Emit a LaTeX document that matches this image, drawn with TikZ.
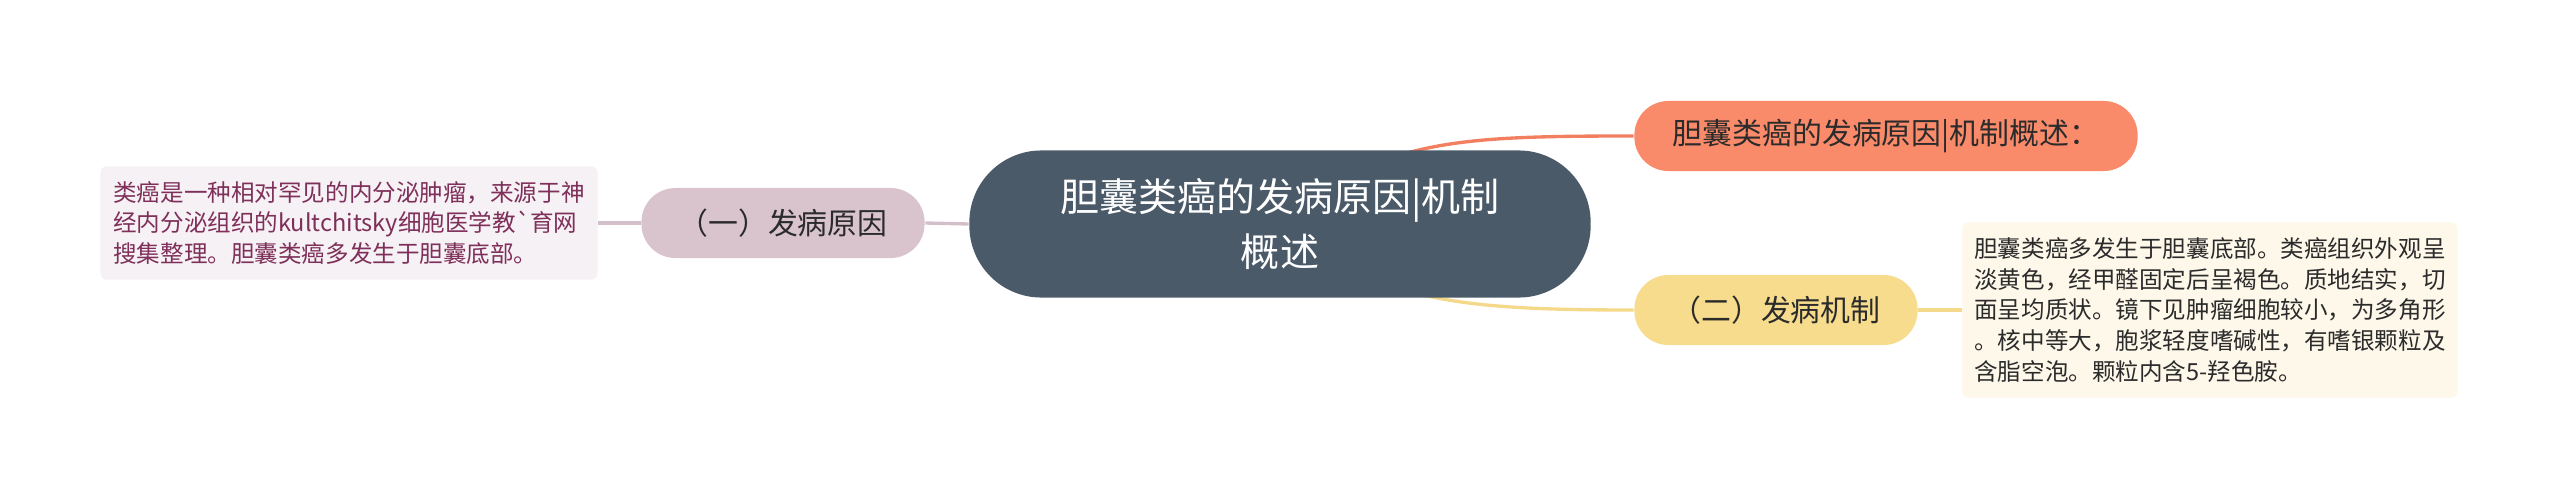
\documentclass[tikz,border=0pt]{standalone}
\usepackage{fontspec}
\usepackage{tikz}
\usetikzlibrary{backgrounds}
\newfontfamily\cjk{Noto Sans CJK SC}[Ligatures=TeXOff]
\definecolor{rootfill}{HTML}{4A5A69}
\definecolor{orangefill}{HTML}{F98A6A}
\definecolor{orangeline}{HTML}{F27F60}
\definecolor{yellowfill}{HTML}{F6DC8C}
\definecolor{yellowline}{HTML}{F5D98A}
\definecolor{pinkfill}{HTML}{D9C4CE}
\definecolor{pinkline}{HTML}{D3BFC9}
\definecolor{leftnotefill}{HTML}{F6F1F4}
\definecolor{leftnotetext}{HTML}{7E2F5A}
\definecolor{rightnotefill}{HTML}{FDF8EA}
\definecolor{textdark}{HTML}{2B2B2B}

\begin{document}
\begin{tikzpicture}[x=0.01cm, y=-0.01cm,
    topic/.style={rectangle, rounded corners=0.34cm, minimum height=0.70cm, inner sep=0pt,
      text=textdark, font=\cjk\fontsize{8.5}{10}\selectfont},
    note/.style={rectangle, rounded corners=0.06cm, inner sep=0pt, align=left,
      font=\cjk\fontsize{6.7}{8.8}\selectfont},
    link/.style={line width=0.95pt}]

  \useasboundingbox (0,0) rectangle (2560,500);

  % Nodes
  \node[rectangle, rounded corners=0.72cm, minimum width=6.21cm, minimum height=1.47cm,
    fill=rootfill, text=white, align=center, font=\cjk\fontsize{11.1}{15.6}\selectfont]
    (root) at (1280,224) {胆囊类癌的发病原因|机制\\概述};

  \node[topic, fill=orangefill, minimum width=5.03cm] (summary) at (1886,136) {胆囊类癌的发病原因|机制概述：};
  \node[topic, fill=yellowfill, minimum width=2.83cm] (mechanism) at (1776,310) {（二）发病机制};
  \node[topic, fill=pinkfill, minimum width=2.83cm] (cause) at (783,223) {（一）发病原因};

  \node[note, fill=leftnotefill, text=leftnotetext, minimum width=4.97cm, minimum height=1.13cm]
    (causenote) at (349,223) {类癌是一种相对罕见的内分泌肿瘤，来源于神\\经内分泌组织的kultchitsky细胞医学教`育网\\搜集整理。胆囊类癌多发生于胆囊底部。};
  \node[note, fill=rightnotefill, text=textdark, minimum width=4.95cm, minimum height=1.75cm]
    (mechnote) at (2210,310) {胆囊类癌多发生于胆囊底部。类癌组织外观呈\\淡黄色，经甲醛固定后呈褐色。质地结实，切\\面呈均质状。镜下见肿瘤细胞较小，为多角形\\。核中等大，胞浆轻度嗜碱性，有嗜银颗粒及\\含脂空泡。颗粒内含5-羟色胺。};

  % Edges
  \begin{scope}[on background layer]
    \draw[link, orangeline] (root.center) .. controls (1380,140) and (1450,136) .. (summary.west);
    \draw[link, yellowline] (root.center) .. controls (1380,300) and (1450,310) .. (mechanism.west);
    \draw[link, pinkline] (root.west) -- (cause.east);
    \draw[link, pinkline] (cause.west) -- (causenote.east);
    \draw[link, yellowline] (mechanism.east) -- (mechnote.west);
  \end{scope}
\end{tikzpicture}
\end{document}
